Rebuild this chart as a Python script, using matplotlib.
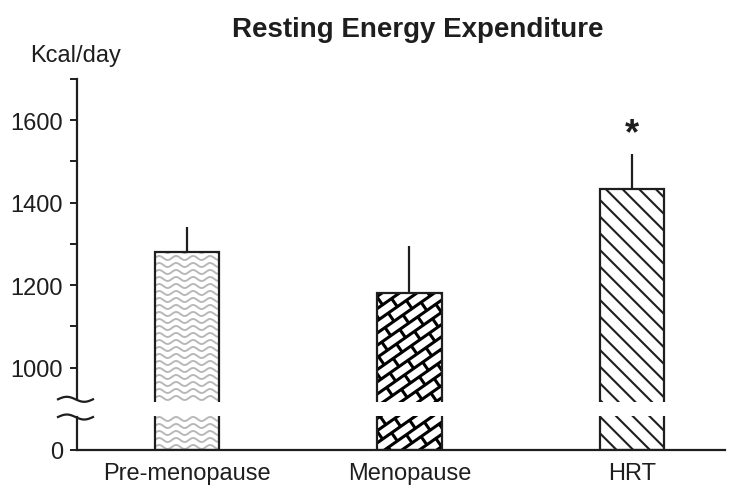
import numpy as np
import matplotlib
matplotlib.use('Agg')
import matplotlib.pyplot as plt
from matplotlib.collections import LineCollection
from matplotlib.transforms import IdentityTransform, blended_transform_factory

categories = ['Pre-menopause', 'Menopause', 'HRT']
ree_mean = [1280, 1181, 1434]
ree_err = [62, 113, 84]
ytick_values = [0, 1000, 1200, 1400, 1600]
minor_ticks = [1100, 1300, 1500, 1700]
marks = ['', '', '*']

AXIS_ZERO = 800            # position where 0 sits on the broken axis
BREAK_LO, BREAK_HI = 880, 923
INK = '#1e1e1e'

plt.rcParams['font.family'] = ['Liberation Sans', 'DejaVu Sans']
plt.rcParams['hatch.linewidth'] = 1.5

fig = plt.figure(figsize=(7.39, 4.89), dpi=100)
ax = fig.add_axes([77/739, 38/489, 648/739, 371/489])
x = np.arange(len(categories))
ax.set_xlim(-0.494, 2.418)
ax.set_ylim(AXIS_ZERO, 1700)

heights = [m - AXIS_ZERO for m in ree_mean]
faces = ax.bar(x, heights, width=0.288, bottom=AXIS_ZERO, color='white',
               edgecolor='none', zorder=1)
outlines = ax.bar(x, heights, width=0.288, bottom=AXIS_ZERO, fill=False,
                  edgecolor=INK, linewidth=1.6, zorder=3)
outlines[2].set_hatch('\\\\')


def px_box(rect):
    (x0, y0), (x1, y1) = ax.transData.transform(
        [(rect.get_x(), rect.get_y()),
         (rect.get_x() + rect.get_width(), rect.get_y() + rect.get_height())])
    return x0, y0, x1, y1


def add_pattern(segs, patch, color, lw):
    lc = LineCollection(segs, colors=color, linewidths=lw,
                        transform=IdentityTransform(), zorder=2)
    ax.add_collection(lc, autolim=False)
    lc.set_clip_path(patch)


# wavy fill (pre-menopause)
x0, y0, x1, y1 = px_box(faces[0])
xs = np.linspace(x0 - 2, x1 + 2, 120)
waves = [np.column_stack([xs, yy + 2.0 * np.sin(2 * np.pi * (xs - x0) / 17)])
         for yy in np.arange(y0 + 3, y1 + 4, 7)]
add_pattern(waves, faces[0], '#b8b8b8', 1.4)

# brick fill (menopause), bricks tilted ~35 deg
x0, y0, x1, y1 = px_box(faces[1])
c = np.array([(x0 + x1) / 2, (y0 + y1) / 2])
th = np.deg2rad(35)
u = np.array([np.cos(th), np.sin(th)])
v = np.array([-np.sin(th), np.cos(th)])
half = np.hypot(x1 - x0, y1 - y0) / 2 + 20
s, b = 10, 22
bricks = []
for k in range(int(-half / s) - 1, int(half / s) + 2):
    p = c + k * s * v
    bricks.append([p - half * u, p + half * u])
    for t in np.arange(-half, half, b) + (k % 2) * b / 2:
        q = c + t * u
        bricks.append([q + k * s * v, q + (k + 1) * s * v])
add_pattern(bricks, faces[1], 'black', 2.2)

ax.errorbar(x, ree_mean, yerr=[np.zeros(len(x)), ree_err], fmt='none',
            ecolor=INK, elinewidth=1.6, capsize=0, zorder=2.5)
for xi, m, e, t in zip(x, ree_mean, ree_err, marks):
    if t:
        ax.text(xi, m + e + 50, t, ha='center', va='center', fontsize=26,
                fontweight='bold', color=INK)

# axis break
ax.axhspan(882, 916, xmin=0.079, xmax=0.96, color='white', lw=0, zorder=5)
for sp in ['top', 'right']:
    ax.spines[sp].set_visible(False)
for sp in ['left', 'bottom']:
    ax.spines[sp].set_linewidth(1.6)
    ax.spines[sp].set_color(INK)
ax.spines['left'].set_bounds(BREAK_HI, 1700)
ax.plot([0, 0], [AXIS_ZERO, BREAK_LO],
        transform=blended_transform_factory(ax.transAxes, ax.transData),
        color=INK, lw=1.6, clip_on=False, zorder=6)
sx = np.linspace(58, 93, 60)
for yb in [BREAK_LO, BREAK_HI]:
    yp = ax.transData.transform([(0, yb)])[0, 1]
    ax.plot(sx, yp + 2.5 * np.sin(2 * np.pi * (sx - 58) / 35), color=INK,
            lw=1.6, transform=IdentityTransform(), clip_on=False, zorder=6)

ax.set_yticks([AXIS_ZERO] + ytick_values[1:])
ax.set_yticklabels([str(v_) for v_ in ytick_values])
ax.set_yticks(minor_ticks, minor=True)
ax.tick_params(axis='y', which='both', direction='out', length=5, width=1.4,
               color=INK, labelsize=17, labelcolor=INK, pad=5)
ax.set_xticks(x)
ax.set_xticklabels(categories)
ax.tick_params(axis='x', length=0, labelsize=17, labelcolor=INK, pad=9)

fig.text(418/739, 1 - 37/489, 'Resting Energy Expenditure', ha='center',
         va='baseline', fontsize=20, fontweight='bold', color=INK)
fig.text(30/739, 1 - 62/489, 'Kcal/day', ha='left', va='baseline',
         fontsize=17, color=INK)

fig.savefig('out.png', dpi=100)
